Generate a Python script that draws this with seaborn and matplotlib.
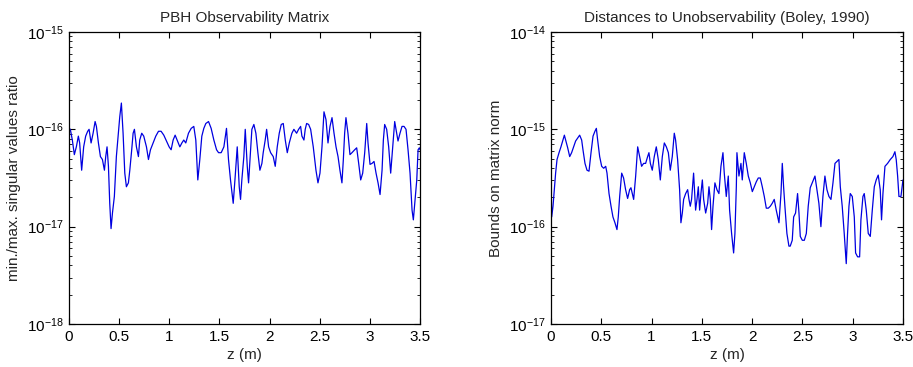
import numpy as np
import matplotlib
matplotlib.use("Agg")
import matplotlib.pyplot as plt
import seaborn as sns
from matplotlib.ticker import LogLocator, FixedLocator, NullFormatter

# ---- data (values stored as log10 of the quantity) ----
z_pbh = [0, 0.013, 0.033, 0.053, 0.073, 0.093, 0.106, 0.126, 0.146, 0.166, 0.186, 0.200, 0.220, 0.240,
         0.260, 0.273, 0.293, 0.313, 0.333, 0.353, 0.366, 0.379, 0.393, 0.406, 0.419, 0.433, 0.452, 0.472,
         0.492, 0.506, 0.522, 0.539, 0.556, 0.572, 0.592, 0.606, 0.625, 0.639, 0.652, 0.672, 0.692, 0.705,
         0.725, 0.745, 0.772, 0.792, 0.812, 0.838, 0.865, 0.892, 0.918, 0.945, 0.971, 0.998, 1.018, 1.038,
         1.058, 1.078, 1.105, 1.125, 1.144, 1.164, 1.191, 1.218, 1.244, 1.264, 1.284, 1.304, 1.324, 1.344,
         1.364, 1.391, 1.417, 1.444, 1.471, 1.491, 1.517, 1.544, 1.570, 1.590, 1.610, 1.637, 1.657, 1.677,
         1.697, 1.710, 1.723, 1.743, 1.757, 1.777, 1.790, 1.810, 1.823, 1.843, 1.863, 1.883, 1.903, 1.923,
         1.936, 1.956, 1.970, 1.990, 2.010, 2.036, 2.056, 2.076, 2.096, 2.116, 2.136, 2.156, 2.176, 2.196,
         2.222, 2.242, 2.269, 2.289, 2.309, 2.322, 2.342, 2.355, 2.369, 2.389, 2.409, 2.435, 2.462, 2.482,
         2.502, 2.522, 2.542, 2.562, 2.582, 2.602, 2.622, 2.642, 2.662, 2.682, 2.701, 2.721, 2.735, 2.748,
         2.761, 2.781, 2.801, 2.821, 2.848, 2.868, 2.888, 2.908, 2.928, 2.948, 2.968, 2.981, 3.001, 3.021,
         3.041, 3.061, 3.081, 3.101, 3.121, 3.134, 3.147, 3.167, 3.187, 3.207, 3.227, 3.247, 3.260, 3.280,
         3.300, 3.320, 3.340, 3.360, 3.380, 3.400, 3.420, 3.433, 3.453, 3.467, 3.480, 3.493, 3.500]
log_ratio = [-15.99, -16.00, -16.11, -16.26, -16.18, -16.07, -16.14, -16.42, -16.18, -16.07, -16.02, -16.00,
             -16.14, -16.04, -15.92, -15.97, -16.14, -16.28, -16.31, -16.42, -16.28, -16.18, -16.38, -16.76,
             -17.02, -16.86, -16.69, -16.28, -16.04, -15.87, -15.73, -16.04, -16.45, -16.59, -16.55, -16.42,
             -16.21, -16.04, -16.00, -16.18, -16.28, -16.11, -16.04, -16.07, -16.18, -16.31, -16.21, -16.14,
             -16.07, -16.02, -16.02, -16.06, -16.12, -16.18, -16.21, -16.11, -16.06, -16.11, -16.18, -16.14,
             -16.11, -16.14, -16.04, -15.99, -15.97, -16.11, -16.52, -16.31, -16.07, -15.99, -15.94, -15.92,
             -15.99, -16.11, -16.21, -16.24, -16.24, -16.18, -15.99, -16.31, -16.52, -16.76, -16.48, -16.18,
             -16.59, -16.72, -16.52, -16.28, -16.00, -16.38, -16.55, -16.21, -16.00, -15.95, -16.04, -16.24,
             -16.42, -16.35, -16.24, -16.11, -16.00, -16.18, -16.24, -16.28, -16.38, -16.18, -16.04, -15.95,
             -15.94, -16.11, -16.24, -16.14, -16.04, -16.00, -16.04, -16.00, -15.97, -16.07, -16.11, -16.00,
             -15.94, -15.95, -16.00, -16.18, -16.42, -16.55, -16.45, -16.18, -15.82, -15.90, -16.14, -15.97,
             -15.88, -16.04, -16.18, -16.28, -16.42, -16.55, -16.31, -16.04, -15.88, -16.04, -16.26, -16.24,
             -16.21, -16.19, -16.35, -16.52, -16.45, -16.24, -15.94, -16.14, -16.36, -16.35, -16.33, -16.45,
             -16.55, -16.67, -16.42, -16.11, -15.95, -16.00, -16.18, -16.45, -16.18, -15.92, -16.00, -16.12,
             -16.04, -15.97, -15.97, -16.00, -16.21, -16.45, -16.83, -16.93, -16.69, -16.52, -16.21, -16.19,
             -16.21]

z_boley = [0, 0.007, 0.020, 0.033, 0.046, 0.060, 0.080, 0.099, 0.119, 0.133, 0.146, 0.166, 0.186, 0.205,
           0.225, 0.245, 0.265, 0.285, 0.305, 0.318, 0.338, 0.358, 0.378, 0.398, 0.418, 0.437, 0.451, 0.464,
           0.484, 0.504, 0.524, 0.544, 0.557, 0.577, 0.597, 0.616, 0.636, 0.656, 0.669, 0.683, 0.703, 0.722,
           0.742, 0.762, 0.782, 0.795, 0.809, 0.822, 0.842, 0.862, 0.882, 0.901, 0.921, 0.941, 0.961, 0.974,
           0.988, 1.007, 1.027, 1.047, 1.067, 1.087, 1.107, 1.127, 1.147, 1.167, 1.186, 1.206, 1.226, 1.239,
           1.259, 1.279, 1.292, 1.306, 1.319, 1.339, 1.359, 1.372, 1.385, 1.398, 1.418, 1.438, 1.452, 1.465,
           1.478, 1.491, 1.505, 1.518, 1.538, 1.558, 1.571, 1.584, 1.597, 1.611, 1.630, 1.650, 1.670, 1.690,
           1.710, 1.723, 1.743, 1.763, 1.776, 1.796, 1.816, 1.829, 1.843, 1.849, 1.869, 1.889, 1.902, 1.922,
           1.942, 1.962, 1.982, 2.002, 2.022, 2.041, 2.061, 2.081, 2.101, 2.121, 2.141, 2.161, 2.181, 2.200,
           2.220, 2.240, 2.254, 2.267, 2.287, 2.300, 2.313, 2.326, 2.346, 2.366, 2.379, 2.399, 2.413, 2.432,
           2.452, 2.466, 2.479, 2.499, 2.519, 2.539, 2.558, 2.578, 2.598, 2.625, 2.645, 2.664, 2.684, 2.704,
           2.724, 2.744, 2.764, 2.784, 2.804, 2.824, 2.843, 2.863, 2.877, 2.896, 2.916, 2.936, 2.949, 2.963,
           2.976, 2.996, 3.016, 3.029, 3.049, 3.069, 3.082, 3.102, 3.115, 3.135, 3.155, 3.175, 3.195, 3.215,
           3.234, 3.254, 3.274, 3.287, 3.301, 3.321, 3.347, 3.374, 3.400, 3.420, 3.433, 3.447, 3.460, 3.480,
           3.500]
log_bound = [-15.55, -15.90, -15.79, -15.62, -15.45, -15.31, -15.24, -15.18, -15.11, -15.06, -15.11, -15.19,
             -15.28, -15.24, -15.18, -15.12, -15.09, -15.06, -15.11, -15.21, -15.35, -15.42, -15.43, -15.24,
             -15.07, -15.02, -14.99, -15.11, -15.28, -15.38, -15.40, -15.38, -15.45, -15.66, -15.79, -15.90,
             -15.96, -16.03, -15.90, -15.69, -15.45, -15.50, -15.62, -15.71, -15.62, -15.60, -15.66, -15.72,
             -15.48, -15.18, -15.28, -15.38, -15.35, -15.35, -15.28, -15.24, -15.35, -15.42, -15.28, -15.18,
             -15.31, -15.52, -15.28, -15.14, -15.18, -15.24, -15.42, -15.28, -15.04, -15.11, -15.31, -15.62,
             -15.96, -15.86, -15.72, -15.66, -15.62, -15.72, -15.79, -15.72, -15.45, -15.83, -15.72, -15.59,
             -15.83, -15.66, -15.52, -15.72, -15.86, -15.76, -15.59, -15.72, -16.03, -15.79, -15.55, -15.62,
             -15.66, -15.38, -15.24, -15.45, -15.69, -15.48, -15.83, -16.07, -16.27, -16.07, -15.59, -15.24,
             -15.48, -15.35, -15.52, -15.24, -15.35, -15.48, -15.55, -15.64, -15.59, -15.54, -15.50, -15.50,
             -15.59, -15.69, -15.81, -15.81, -15.79, -15.76, -15.72, -15.83, -15.90, -15.96, -15.66, -15.35,
             -15.59, -15.79, -16.07, -16.20, -16.20, -16.14, -15.90, -15.86, -15.66, -15.86, -16.10, -16.14,
             -16.14, -16.07, -15.79, -15.60, -15.55, -15.48, -15.62, -15.76, -16.00, -15.69, -15.48, -15.62,
             -15.69, -15.72, -15.55, -15.35, -15.33, -15.31, -15.59, -15.79, -16.07, -16.38, -16.07, -15.79,
             -15.66, -15.69, -15.90, -16.27, -16.31, -16.31, -15.93, -15.69, -15.66, -15.83, -16.07, -16.10,
             -15.83, -15.59, -15.52, -15.47, -15.62, -15.93, -15.66, -15.38, -15.35, -15.31, -15.28, -15.23,
             -15.31, -15.48, -15.69, -15.69, -15.52]

titles = ["PBH Observability Matrix", "Distances to Unobservability (Boley, 1990)"]
ylabels = ["min./max. singular values ratio", "Bounds on matrix norm"]
xlabel = "z (m)"
xticks = [0, 0.5, 1, 1.5, 2, 2.5, 3, 3.5]
xticklabels = ["0", "0.5", "1", "1.5", "2", "2.5", "3", "3.5"]
yticks_pbh = [1e-18, 1e-17, 1e-16, 1e-15]
yticks_boley = [1e-17, 1e-16, 1e-15, 1e-14]

# ---- style ----
sns.set_style("white")
plt.rcParams["font.family"] = ["Liberation Sans", "DejaVu Sans"]
plt.rcParams["mathtext.default"] = "regular"
plt.rcParams["font.size"] = 11

fig = plt.figure(figsize=(9.13, 3.67), dpi=100)
ax1 = fig.add_axes([0.0756, 0.1172, 0.3845, 0.7956])
ax2 = fig.add_axes([0.6035, 0.1172, 0.3855, 0.7956])

series = [(z_pbh, log_ratio), (z_boley, log_bound)]
for ax, (zz, lv), title, ylab, yt in zip([ax1, ax2], series, titles, ylabels, [yticks_pbh, yticks_boley]):
    vals = np.power(10.0, np.array(lv))
    sns.lineplot(x=np.array(zz), y=vals, ax=ax, color="#0000e0", linewidth=0.9, sort=False)
    ax.set_yscale("log")
    ax.set_xlim(0, 3.5)
    ax.set_ylim(yt[0], yt[-1])
    ax.xaxis.set_major_locator(FixedLocator(xticks))
    ax.set_xticklabels(xticklabels)
    ax.yaxis.set_major_locator(FixedLocator(yt))
    ax.yaxis.set_minor_locator(LogLocator(base=10, subs=np.arange(2, 10), numticks=20))
    ax.yaxis.set_minor_formatter(NullFormatter())
    ax.tick_params(which="both", direction="in", top=True, right=True, bottom=True, left=True,
                   colors="black", labelsize=11, pad=4)
    ax.tick_params(which="major", length=4, width=0.8)
    ax.tick_params(which="minor", length=2.5, width=0.6)
    ax.tick_params(axis="x", which="minor", bottom=False, top=False)
    for sp in ax.spines.values():
        sp.set_visible(True)
        sp.set_color("black")
        sp.set_linewidth(0.9)
    ax.set_title(title, fontsize=11, pad=7)
    ax.set_ylabel(ylab, fontsize=11, labelpad=4)
    ax.set_xlabel(xlabel, fontsize=11, labelpad=3.5)

fig.savefig("out.png", dpi=100, facecolor="white")
